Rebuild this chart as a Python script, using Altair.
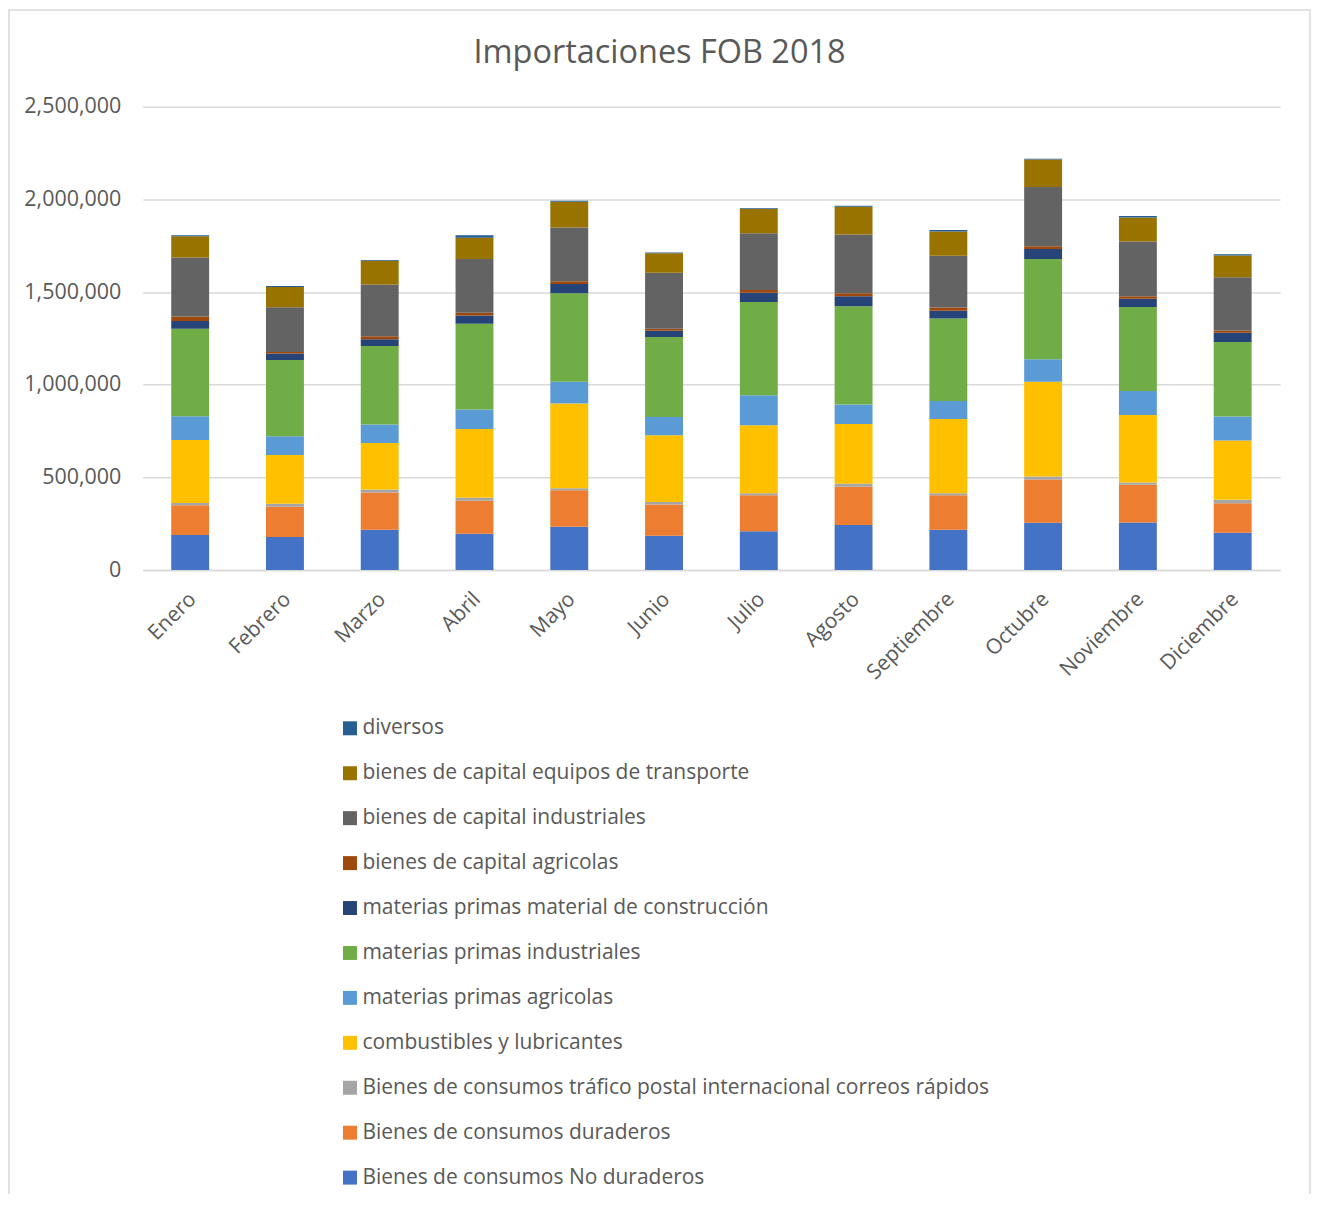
import altair as alt
import pandas as pd

months = ["Enero", "Febrero", "Marzo", "Abril", "Mayo", "Junio", "Julio",
          "Agosto", "Septiembre", "Octubre", "Noviembre", "Diciembre"]

categories = [
    "Bienes de consumos No duraderos",
    "Bienes de consumos duraderos",
    "Bienes de consumos tráfico postal internacional correos rápidos",
    "combustibles y lubricantes",
    "materias primas agricolas",
    "materias primas industriales",
    "materias primas material de construcción",
    "bienes de capital agricolas",
    "bienes de capital industriales",
    "bienes de capital equipos de transporte",
    "diversos",
]
colors = ["#4472C4", "#ED7D31", "#A5A5A5", "#FFC000", "#5B9BD5", "#70AD47",
          "#264478", "#9E480E", "#636363", "#997300", "#255E91"]

no_duraderos = [189000, 178000, 218000, 196000, 234000, 185000, 209000, 243000, 218000, 255000, 257000, 201000]
duraderos = [160000, 164000, 201000, 178000, 196000, 169000, 194000, 207000, 185000, 234000, 203000, 160000]
postal = [12500, 16000, 15000, 16000, 11000, 13000, 11000, 16000, 11000, 16000, 13000, 18000]
combustibles = [340000, 263000, 251000, 371000, 458000, 361000, 367000, 322000, 401000, 511000, 363000, 320000]
mp_agricolas = [128000, 101000, 101000, 106000, 117000, 98000, 162000, 106000, 97000, 122000, 130000, 129000]
mp_industriales = [473000, 412000, 423000, 462000, 477000, 431000, 503000, 529000, 446000, 541000, 453000, 403000]
mp_construccion = [41000, 34000, 36000, 45000, 50000, 34000, 50000, 54000, 41000, 54000, 45000, 49000]
bc_agricolas = [25000, 9000, 16000, 14000, 15000, 11000, 15000, 16000, 18000, 14000, 13000, 12000]
bc_industriales = [318000, 241000, 280000, 290000, 291000, 302000, 306000, 318000, 279000, 320000, 296000, 288000]
bc_transporte = [115000, 110000, 128000, 115000, 139000, 105000, 131000, 150000, 131000, 148000, 130000, 117000]
diversos = [5000, 5000, 4000, 13000, 5000, 5000, 5000, 5000, 8000, 5000, 7000, 7000]

series = [no_duraderos, duraderos, postal, combustibles, mp_agricolas, mp_industriales,
          mp_construccion, bc_agricolas, bc_industriales, bc_transporte, diversos]

rows = []
for idx, (cat, vals) in enumerate(zip(categories, series)):
    for m, v in zip(months, vals):
        rows.append({"mes": m, "categoria": cat, "valor": v, "idx": idx})
df = pd.DataFrame(rows)

TEXT = "#595959"
GRID = "#D9D9D9"

bars = alt.Chart(df).mark_bar().encode(
    x=alt.X("mes:N", sort=months, title=None,
            scale=alt.Scale(paddingInner=0.6, paddingOuter=0.3),
            axis=alt.Axis(labelAngle=-45, labelAlign="right", labelBaseline="top",
                          labelFontSize=21, labelColor=TEXT, labelPadding=18,
                          labelOffset=-5,
                          ticks=False, domainColor=GRID, domainWidth=1.5)),
    y=alt.Y("valor:Q", stack="zero", title=None,
            scale=alt.Scale(domain=[0, 2500000]),
            axis=alt.Axis(values=[0, 500000, 1000000, 1500000, 2000000, 2500000],
                          format=",.0f", labelFontSize=21.5, labelColor=TEXT,
                          labelPadding=22, ticks=False, domain=False,
                          gridColor=GRID, gridWidth=1.5)),
    color=alt.Color("categoria:N",
                    scale=alt.Scale(domain=categories[::-1], range=colors[::-1]),
                    legend=alt.Legend(title=None, orient="none", legendX=197, legendY=612,
                                      direction="vertical", symbolType="square",
                                      symbolSize=196, symbolStrokeWidth=0,
                                      labelFontSize=21, labelColor=TEXT,
                                      labelOffset=2, rowPadding=23, padding=0,
                                      labelLimit=800)),
    order=alt.Order("idx:Q", sort="ascending"),
)

frame = alt.Chart(alt.Data(values=[{}])).mark_rect(
    fill="transparent", stroke=GRID, strokeWidth=1.5
).encode(
    x=alt.value(-134), x2=alt.value(1169), y=alt.value(-97), y2=alt.value(1120)
)

chart = alt.layer(frame, bars).properties(
    width=1139,
    height=464,
    autosize=alt.AutoSizeParams(type="none"),
    padding={"left": 135, "top": 98, "right": 32, "bottom": 624},
    title=alt.TitleParams("Importaciones FOB 2018", fontSize=32.5, color=TEXT,
                          fontWeight="normal", anchor="middle", frame="group",
                          dx=-52, offset=-60),
).configure(
    font="Open Sans",
    background="white",
).configure_view(
    stroke=None
)

chart.save("out.html", embed_options={"renderer": "svg", "actions": False})
